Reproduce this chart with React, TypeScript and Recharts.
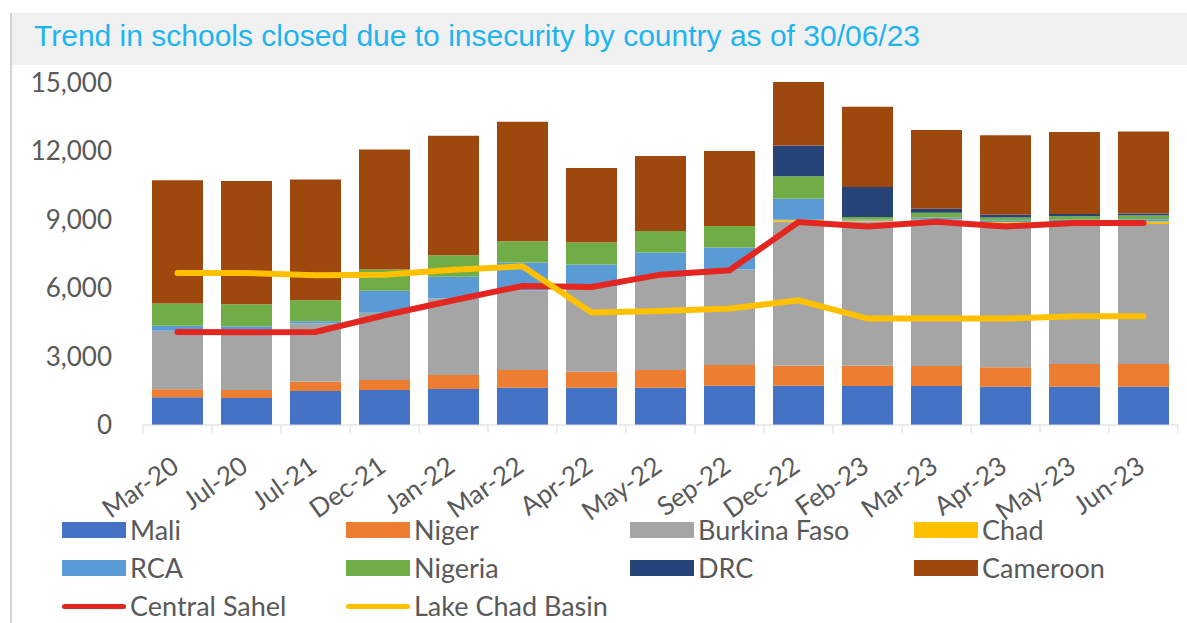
import React from 'react';
import { ComposedChart, Bar, Line, XAxis, YAxis } from 'recharts';

const categories = ['Mar-20', 'Jul-20', 'Jul-21', 'Dec-21', 'Jan-22', 'Mar-22', 'Apr-22', 'May-22', 'Sep-22', 'Dec-22', 'Feb-23', 'Mar-23', 'Apr-23', 'May-23', 'Jun-23'];

const mali = [1210, 1180, 1487, 1530, 1574, 1631, 1631, 1631, 1718, 1718, 1705, 1705, 1675, 1675, 1675];
const niger = [350, 350, 406, 438, 612, 774, 700, 774, 905, 877, 888, 875, 848, 992, 992];
const burkinaFaso = [2565, 2595, 2554, 2942, 3354, 3498, 3716, 4080, 4185, 6317, 6307, 6380, 6327, 6213, 6127];
const chad = [0, 0, 0, 0, 0, 0, 0, 0, 0, 74, 40, 40, 40, 40, 118];
const rca = [215, 200, 100, 962, 945, 1211, 980, 1066, 962, 918, 60, 80, 50, 70, 100];
const nigeria = [980, 965, 919, 936, 948, 931, 961, 945, 944, 987, 110, 215, 140, 150, 160];
const drc = [0, 0, 0, 0, 0, 0, 0, 0, 0, 1341, 1310, 170, 125, 100, 90];
const cameroon = [5392, 5390, 5277, 5247, 5234, 5235, 3262, 3279, 3280, 2783, 3516, 3453, 3477, 3585, 3582];

const centralSahel = [4076, 4062, 4076, 4806, 5461, 6087, 6043, 6582, 6771, 8883, 8693, 8899, 8693, 8839, 8839];
const lakeChadBasin = [6655, 6655, 6553, 6582, 6800, 6946, 4925, 4995, 5097, 5461, 4660, 4660, 4660, 4762, 4762];

const yTicks = [0, 3000, 6000, 9000, 12000, 15000];

const barSeries = [
  { key: 'Mali', values: mali, color: '#4472c4' },
  { key: 'Niger', values: niger, color: '#ed7d31' },
  { key: 'Burkina Faso', values: burkinaFaso, color: '#a5a5a5' },
  { key: 'Chad', values: chad, color: '#ffc000' },
  { key: 'RCA', values: rca, color: '#5b9bd5' },
  { key: 'Nigeria', values: nigeria, color: '#70ad47' },
  { key: 'DRC', values: drc, color: '#264478' },
  { key: 'Cameroon', values: cameroon, color: '#9e480e' },
];

const lineSeries = [
  { key: 'Central Sahel', values: centralSahel, color: '#e3261f' },
  { key: 'Lake Chad Basin', values: lakeChadBasin, color: '#ffc000' },
];

const data = categories.map((month, i) => {
  const row: Record<string, string | number> = { month };
  barSeries.forEach((s) => (row[s.key] = s.values[i]));
  lineSeries.forEach((s) => (row[s.key] = s.values[i]));
  return row;
});

const FONT = 'Lato, "Liberation Sans", sans-serif';
const TEXT = '#595959';
const AXIS_Y = 425;
const BAND = 69;

const XTick = (props: any) => {
  const { x, payload, index } = props;
  const ax = x + 3;
  const ay = 470;
  return (
    <g>
      <line x1={x - BAND / 2} x2={x - BAND / 2} y1={AXIS_Y} y2={AXIS_Y + 8} stroke="#d9d9d9" />
      {index === categories.length - 1 && (
        <line x1={x + BAND / 2} x2={x + BAND / 2} y1={AXIS_Y} y2={AXIS_Y + 8} stroke="#d9d9d9" />
      )}
      <text x={ax} y={ay} transform={`rotate(-35, ${ax}, ${ay})`} textAnchor="end" fill={TEXT} fontSize={26} fontFamily={FONT}>
        {payload.value}
      </text>
    </g>
  );
};

const legendRows = [
  barSeries.slice(0, 4).map((s) => ({ ...s, line: false })),
  barSeries.slice(4, 8).map((s) => ({ ...s, line: false })),
  lineSeries.map((s) => ({ ...s, line: true })),
];

export default function App() {
  return (
    <div style={{ position: 'fixed', left: 0, top: 0, width: 1187, height: 623, background: '#fff' }}>
      <div style={{ position: 'absolute', left: 10, top: 13, width: 2, height: 610, background: '#d3d3d3' }} />
      <div
        style={{
          position: 'absolute', left: 12, top: 13, right: 0, height: 52, background: '#f1f1f1',
          color: '#1eb4ef', fontFamily: '"Liberation Sans", Arial, sans-serif', fontSize: 30,
          lineHeight: '46px', paddingLeft: 22, boxSizing: 'border-box', whiteSpace: 'nowrap',
        }}
      >
        Trend in schools closed due to insecurity by country as of 30/06/23
      </div>
      <div style={{ position: 'absolute', left: 0, top: 0 }}>
        <ComposedChart width={1187} height={623} data={data} margin={{ top: 82, right: 9, left: 0, bottom: 0 }} barSize={51}>
          <XAxis
            dataKey="month"
            height={198}
            interval={0}
            tickLine={false}
            axisLine={{ stroke: '#d9d9d9' }}
            tick={<XTick />}
          />
          <YAxis
            width={143}
            domain={[0, 15000]}
            ticks={yTicks}
            axisLine={false}
            tickLine={false}
            tickSize={0}
            tickMargin={31}
            tickFormatter={(v: number) => v.toLocaleString('en-US')}
            tick={{ fill: TEXT, fontSize: 26, fontFamily: FONT }}
          />
          {barSeries.map((s) => (
            <Bar key={s.key} dataKey={s.key} stackId="a" fill={s.color} isAnimationActive={false} />
          ))}
          {lineSeries.map((s) => (
            <Line
              key={s.key}
              type="linear"
              dataKey={s.key}
              stroke={s.color}
              strokeWidth={6}
              strokeLinecap="round"
              dot={false}
              activeDot={false}
              isAnimationActive={false}
            />
          ))}
        </ComposedChart>
      </div>
      {legendRows.map((row, r) => (
        <div key={r} style={{ position: 'absolute', left: 0, top: 514 + r * 38, height: 32 }}>
          {row.map((item, c) => (
            <div key={item.key} style={{ position: 'absolute', left: 62 + c * 284, top: 0, display: 'flex', alignItems: 'center', height: 32, whiteSpace: 'nowrap', lineHeight: '32px' }}>
              {item.line ? (
                <div style={{ width: 64, height: 5, borderRadius: 3, background: item.color }} />
              ) : (
                <div style={{ width: 64, height: 16, background: item.color }} />
              )}
              <span style={{ marginLeft: 4, fontFamily: FONT, fontSize: 27, color: TEXT }}>{item.key}</span>
            </div>
          ))}
        </div>
      ))}
    </div>
  );
}
